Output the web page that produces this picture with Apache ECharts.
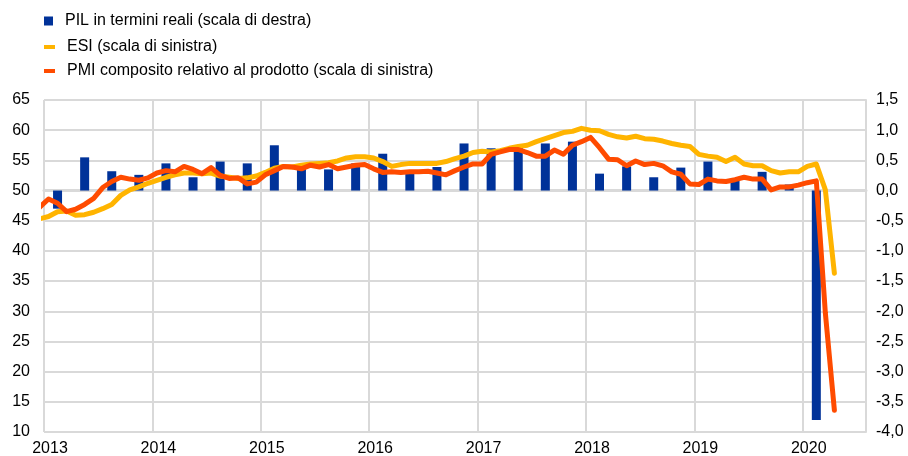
<!DOCTYPE html>
<html>
<head>
<meta charset="utf-8">
<script src="https://cdn.jsdelivr.net/npm/echarts@6/dist/echarts.min.js"></script>
<style>
  html, body { margin: 0; padding: 0; background: #fff; }
  #chart { width: 908px; height: 456px; }
</style>
</head>
<body>
<div id="chart"></div>
<script>
// serie mensili da dicembre 2012 ad aprile 2020
const firstMonth = [2012, 12];
const lastMonth = [2020, 4];

// ESI ricalibrato (scala di sinistra)
const esi = [
  45.3,
  45.7, 46.5, 46.6, 45.9, 46.0, 46.4, 47.0, 47.7, 49.2, 50.1, 50.6, 51.2,
  51.7, 52.2, 52.6, 52.9, 52.9, 52.8, 52.9, 52.4, 52.2, 52.0, 52.1, 52.4,
  53.0, 53.7, 54.0, 53.9, 54.2, 54.4, 54.5, 54.6, 54.9, 55.4, 55.6, 55.6,
  55.4, 54.8, 54.0, 54.3, 54.5, 54.5, 54.5, 54.5, 54.8, 55.3, 55.7, 56.3,
  56.5, 56.4, 56.6, 57.0, 57.3, 57.5, 58.1, 58.6, 59.1, 59.6, 59.8, 60.3,
  60.0, 59.9, 59.3, 58.9, 58.7, 59.0, 58.6, 58.5, 58.2, 57.8, 57.5, 57.3,
  56.0, 55.7, 55.5, 54.8, 55.5, 54.4, 54.1, 54.1, 53.3, 52.9, 53.1, 53.1,
  54.0, 54.4, 50.1, 36.3
];

// PMI composito relativo al prodotto (scala di sinistra)
const pmi = [
  47.2,
  48.6, 47.9, 46.5, 46.9, 47.7, 48.7, 50.5, 51.5, 52.2, 51.9, 51.7, 52.1,
  52.9, 53.3, 53.1, 54.0, 53.5, 52.8, 53.8, 52.5, 52.0, 52.1, 51.1, 51.4,
  52.6, 53.3, 54.0, 53.9, 53.6, 54.2, 53.9, 54.3, 53.6, 53.9, 54.2, 54.3,
  53.6, 53.0, 53.1, 53.0, 53.1, 53.1, 53.2, 52.9, 52.6, 53.3, 53.9, 54.4,
  54.4, 56.0, 56.4, 56.8, 56.8, 56.3, 55.7, 55.7, 56.7, 56.0, 57.5, 58.1,
  58.8, 57.1, 55.2, 55.1, 54.1, 54.9, 54.3, 54.5, 54.1, 53.1, 52.7, 51.1,
  51.0, 51.9, 51.6, 51.5, 51.8, 52.2, 51.9, 51.9, 50.1, 50.6, 50.6, 50.9,
  51.3, 51.6, 29.7, 13.6
];

// PIL in termini reali, variazioni trimestrali (scala di destra), 2013T1-2020T1
const quarters = [
  '2013T1', '2013T2', '2013T3', '2013T4',
  '2014T1', '2014T2', '2014T3', '2014T4',
  '2015T1', '2015T2', '2015T3', '2015T4',
  '2016T1', '2016T2', '2016T3', '2016T4',
  '2017T1', '2017T2', '2017T3', '2017T4',
  '2018T1', '2018T2', '2018T3', '2018T4',
  '2019T1', '2019T2', '2019T3', '2019T4',
  '2020T1'
];
const pil = [
  -0.3, 0.55, 0.32, 0.26,
  0.45, 0.22, 0.48, 0.45,
  0.75, 0.40, 0.35, 0.45,
  0.61, 0.34, 0.39, 0.78,
  0.70, 0.72, 0.78, 0.81,
  0.28, 0.40, 0.22, 0.38,
  0.48, 0.16, 0.31, 0.10,
  -3.8
];

const leftTicks = { min: 10, max: 65, interval: 5 };
const rightTicks = { min: -4, max: 1.5, interval: 0.5 };

const names = [
  'PIL in termini reali (scala di destra)',
  'ESI (scala di sinistra)',
  'PMI composito relativo al prodotto (scala di sinistra)'
];

// posizione di ogni mese (metà mese) sull'asse del tempo
const monthPos = [];
for (let y = firstMonth[0], m = firstMonth[1]; y < lastMonth[0] || (y === lastMonth[0] && m <= lastMonth[1]); m++) {
  if (m > 12) { m = 1; y++; }
  monthPos.push(y + (m - 0.5) / 12);
}
const quarterPos = quarters.map((q) => +q.slice(0, 4) + (+q.slice(5) - 0.5) / 4);

const grey = '#d9d9d9';
const font = 'Liberation Sans, Arial, sans-serif';
const legendText = { fontSize: 16, color: '#000', fontFamily: font, padding: [0, 0, 0, 7] };

const chart = echarts.init(document.getElementById('chart'));
chart.setOption({
  animation: false,
  textStyle: { fontFamily: font },
  grid: { left: 44, right: 42, top: 100, bottom: 24, outerBoundsMode: 'none' },
  legend: [
    {
      data: [names[0]], left: 39, top: 8, icon: 'rect',
      itemWidth: 9, itemHeight: 9, textStyle: legendText
    },
    {
      data: [names[1]], left: 39, top: 34, icon: 'rect',
      itemWidth: 11, itemHeight: 4, textStyle: legendText
    },
    {
      data: [names[2]], left: 39, top: 58, icon: 'rect',
      itemWidth: 11, itemHeight: 4, textStyle: legendText
    }
  ],
  xAxis: {
    type: 'value',
    min: 2013,
    max: 2020 + 7 / 12,
    interval: 1,
    axisLine: { show: true, lineStyle: { color: grey, width: 3 } },
    axisTick: { show: false },
    splitLine: { show: true, lineStyle: { color: grey, width: 2 } },
    axisLabel: {
      color: '#000', fontSize: 16, margin: 9, padding: [0, 0, 0, 12],
      showMaxLabel: false,
      formatter: (v) => (Number.isInteger(v) ? String(v) : '')
    }
  },
  yAxis: [
    {
      type: 'value',
      min: leftTicks.min, max: leftTicks.max, interval: leftTicks.interval,
      axisLine: { show: false },
      axisTick: { show: false },
      splitLine: { show: true, lineStyle: { color: grey, width: 2 } },
      axisLabel: { color: '#000', fontSize: 16, margin: 14 }
    },
    {
      type: 'value',
      min: rightTicks.min, max: rightTicks.max, interval: rightTicks.interval,
      axisLine: { show: true, lineStyle: { color: grey, width: 2 } },
      axisTick: { show: false },
      splitLine: { show: false },
      axisLabel: {
        color: '#000', fontSize: 16, margin: 10,
        formatter: (v) => v.toFixed(1).replace('.', ',')
      }
    }
  ],
  series: [
    {
      name: names[0],
      type: 'bar',
      yAxisIndex: 1,
      barWidth: 9,
      itemStyle: { color: '#003299' },
      data: quarterPos.map((x, i) => [x, pil[i]])
    },
    {
      name: names[1],
      type: 'line',
      showSymbol: false,
      itemStyle: { color: '#ffb400' },
      lineStyle: { color: '#ffb400', width: 5, cap: 'round', join: 'round' },
      data: monthPos.map((x, i) => [x, esi[i]])
    },
    {
      name: names[2],
      type: 'line',
      showSymbol: false,
      itemStyle: { color: '#ff4b00' },
      lineStyle: { color: '#ff4b00', width: 5, cap: 'round', join: 'round' },
      data: monthPos.map((x, i) => [x, pmi[i]])
    }
  ]
});
</script>
</body>
</html>
